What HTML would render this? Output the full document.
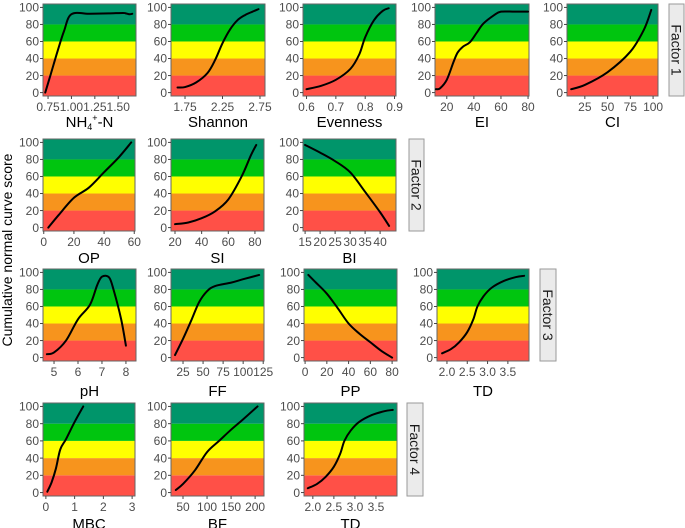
<!DOCTYPE html>
<html><head><meta charset="utf-8"><style>
html,body{margin:0;padding:0;background:#fff;}
svg{display:block;font-family:"Liberation Sans",Arial,sans-serif;}
</style></head><body>
<svg id="chart" width="685" height="528" viewBox="0 0 685 528" xmlns="http://www.w3.org/2000/svg"></svg>
<script>
// ---- data (x values / cumulative score) ----
const nh4X=[0.72,0.78,0.85,0.92,1.00,1.2,1.4,1.55,1.58,1.62,1.65];
const nh4Y=[0,22,48,72,92,92.5,93,93.5,93,92,92.5];
const shanX=[1.65,1.75,1.9,2.05,2.15,2.25,2.35,2.45,2.55,2.65,2.73];
const shanY=[6,6.5,12,23,38,58,74,85,91,95,98];
const evenX=[0.6,0.65,0.7,0.75,0.78,0.8,0.83,0.86,0.88];
const evenY=[4,8,15,28,45,65,85,96,99];
const eiX=[12,15,20,25,28,32,37,42,47,55,60,70,80];
const eiY=[4,5,15,36,47,54,59,70,81,91,95,95,95];
const ciX=[10,25,50,75,90,98];
const ciY=[4,9,24,48,74,97];
const opX=[3,10,20,30,40,50,58];
const opY=[0,15,35,47,65,83,100];
const siX=[20,30,40,50,60,70,77,81];
const siY=[4,6,11,19,33,60,85,97];
const biX=[15,20,25,30,35,40,43];
const biY=[97,88,78,65,42,18,2];
const phX=[4.7,5.0,5.5,6.0,6.5,6.8,7.0,7.3,7.5,7.8,8.0];
const phY=[4,6,20,45,62,85,95,94,78,45,14];
const ffX=[15,25,35,45,55,65,85,100,120];
const ffY=[3,22,43,65,78,84,88,92,97];
const ppX=[3,10,20,30,40,50,60,70,80];
const ppY=[97,88,75,58,40,28,18,8,0];
const td3X=[1.88,2.1,2.3,2.5,2.65,2.75,2.9,3.1,3.4,3.7,3.9];
const td3Y=[5,10,18,30,45,60,72,82,90,94.5,96];
const mbcX=[0.05,0.2,0.35,0.5,0.7,1.0,1.3];
const mbcY=[1,12,28,50,62,82,100];
const bfX=[35,50,75,100,125,150,175,205];
const bfY=[3,10,26,47,60,73,85,100];
const td4X=[1.88,2.1,2.3,2.5,2.65,2.75,2.9,3.1,3.4,3.7,3.9];
const td4Y=[5,10,18,30,45,60,72,82,90,94.5,96];
// ---- tick labels ----
const yTicks=[0,20,40,60,80,100];
const nh4Ticks=[0.75,1.0,1.25,1.5], nh4Lab=["0.75","1.00","1.25","1.50"];
const shanTicks=[1.75,2.25,2.75];
const evenTicks=[0.6,0.7,0.8,0.9];
const eiTicks=[20,40,60,80];
const ciTicks=[25,50,75,100];
const opTicks=[0,20,40,60];
const siTicks=[20,40,60,80];
const biTicks=[15,20,25,30,35,40];
const phTicks=[5,6,7,8];
const ffTicks=[25,50,75,100,125];
const ppTicks=[0,20,40,60,80];
const tdTicks=[2.0,2.5,3.0,3.5], tdLab=["2.0","2.5","3.0","3.5"];
const mbcTicks=[0,1,2,3];
const bfTicks=[50,100,150,200];

const NS="http://www.w3.org/2000/svg";
const svg=document.getElementById('chart');
function mk(tag,attrs,parent){const e=document.createElementNS(NS,tag);for(const k in attrs)e.setAttribute(k,attrs[k]);(parent||svg).appendChild(e);return e;}
const bandCols=["#ff5047","#f7941d","#ffff00","#00c50f","#00956a"];
function smooth(pts){
  let d="M"+pts[0][0]+","+pts[0][1];
  for(let i=0;i<pts.length-1;i++){
    const p0=pts[Math.max(0,i-1)],p1=pts[i],p2=pts[i+1],p3=pts[Math.min(pts.length-1,i+2)];
    const c1=[p1[0]+(p2[0]-p0[0])/6,p1[1]+(p2[1]-p0[1])/6];
    const c2=[p2[0]-(p3[0]-p1[0])/6,p2[1]-(p3[1]-p1[1])/6];
    d+=" C"+c1[0].toFixed(2)+","+c1[1].toFixed(2)+" "+c2[0].toFixed(2)+","+c2[1].toFixed(2)+" "+p2[0].toFixed(2)+","+p2[1].toFixed(2);
  }
  return d;
}
function panel(name,x0,x1,y0,y1,dom,xs,ys,ticks,labs,title,titleY){
  const g=mk('g',{});
  
  
  const sx=v=>x0+(v-dom[0])/(dom[1]-dom[0])*(x1-x0);
  const sy=v=>y1-(v+4)/108*(y1-y0);
  for(let i=0;i<5;i++){
    const top=i==4?y0:sy(i*20+20), bot=i==0?y1:sy(i*20);
    const r=mk('rect',{x:x0,y:top,width:x1-x0,height:bot-top,fill:bandCols[i]},g);
    
    
  }
  mk('rect',{x:x0,y:y0,width:x1-x0,height:y1-y0,fill:'none',stroke:'#666','stroke-width':1},g);
  yTicks.forEach(t=>{
    const y=sy(t);
    mk('line',{x1:x0-3,x2:x0,y1:y,y2:y,stroke:'#444'},g);
    const tx=mk('text',{x:x0-4,y:y+4.2,'text-anchor':'end','font-size':12,fill:'#4d4d4d'},g);
    tx.textContent=t;
    
    
  });
  ticks.forEach((t,i)=>{
    const x=sx(t);
    mk('line',{x1:x,x2:x,y1:y1,y2:y1+3,stroke:'#444'},g);
    const tx=mk('text',{x:x,y:y1+15,'text-anchor':'middle','font-size':12,fill:'#4d4d4d'},g);
    tx.textContent=labs?labs[i]:t;
    
    
  });
  const pts=xs.map((v,i)=>[sx(v),sy(ys[i])]);
  const p=mk('path',{d:smooth(pts),fill:'none',stroke:'#000','stroke-width':2,'stroke-linejoin':'round','stroke-linecap':'round'},g);
  
  
  const t=mk('text',{x:(x0+x1)/2,y:titleY,'text-anchor':'middle','font-size':15,fill:'#000'},g);
  
  
  if(title==='NH4'){t.innerHTML='NH<tspan font-size="9" dy="3">4</tspan><tspan font-size="9" dy="-9">+</tspan><tspan dy="6">-N</tspan>';}
  else t.textContent=title;
}
function strip(label,x0,x1,y0,y1){
  const g=mk('g',{});
  
  
  mk('rect',{x:x0,y:y0,width:x1-x0,height:y1-y0,fill:'#ebebeb',stroke:'#999'},g);
  const cx=(x0+x1)/2, cy=(y0+y1)/2;
  const t=mk('text',{x:cx,y:cy,'text-anchor':'middle','font-size':14,fill:'#1a1a1a',transform:`rotate(90 ${cx} ${cy})`,dy:5},g);
  t.textContent=label;
}
// row 1
panel('nh4',43,136,4,96,[0.696,1.69],nh4X,nh4Y,nh4Ticks,nh4Lab,'NH4',127);
panel('shannon',171,265,4,96,[1.563,2.817],shanX,shanY,shanTicks,null,'Shannon',127);
panel('evenness',303,396,4,96,[0.588,0.905],evenX,evenY,evenTicks,null,'Evenness',127);
panel('ei',435,529,4,96,[11.3,80.7],eiX,eiY,eiTicks,null,'EI',127);
panel('ci',567,658,4,96,[5.4,105.4],ciX,ciY,ciTicks,null,'CI',127);
strip('Factor 1',669,684,4,96);
// row 2
panel('op',43,135,139,231,[-0.5,60.5],opX,opY,opTicks,null,'OP',263);
panel('si',171,264,139,231,[17,86.8],siX,siY,siTicks,null,'SI',263);
panel('bi',303,396,139,231,[14.3,45.3],biX,biY,biTicks,null,'BI',263);
strip('Factor 2',409,424,139,231);
// row 3
panel('ph',43,136,269,361,[4.54,8.42],phX,phY,phTicks,null,'pH',396);
panel('ff',171,264,269,361,[10,126],ffX,ffY,ffTicks,null,'FF',396);
panel('pp',304,397,269,361,[-1,84.5],ppX,ppY,ppTicks,null,'PP',396);
panel('td-factor3',437,529,269,361,[1.755,4.02],td3X,td3Y,tdTicks,tdLab,'TD',396);
strip('Factor 3',540,556,269,361);
// row 4
panel('mbc',43,135,403,496,[-0.1,3.1],mbcX,mbcY,mbcTicks,null,'MBC',529);
panel('bf',171,264,403,496,[25,218.5],bfX,bfY,bfTicks,null,'BF',529);
panel('td-factor4',304,397,403,496,[1.79,4.0],td4X,td4Y,tdTicks,tdLab,'TD',529);
strip('Factor 4',407,423,403,496);
// y axis title
const yt=mk('text',{x:12,y:250,'text-anchor':'middle','font-size':14,fill:'#000',transform:'rotate(-90 12 250)'});
yt.textContent='Cumulative normal curve score';


</script>
</body></html>
